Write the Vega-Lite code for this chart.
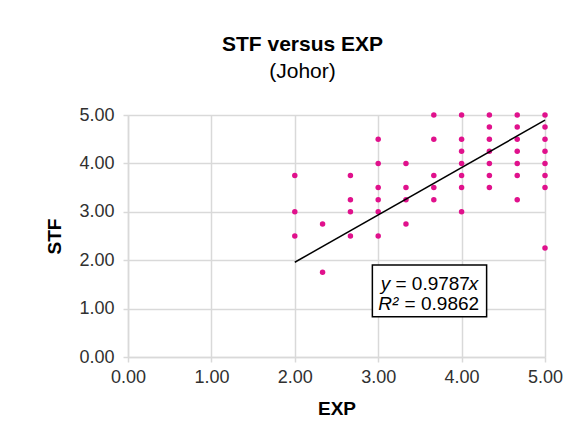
{
  "$schema": "https://vega.github.io/schema/vega-lite/v6.json",
  "autosize": "none",
  "width": 417,
  "height": 242,
  "padding": {"left": 128, "top": 115, "right": 35, "bottom": 91},
  "background": "white",
  "config": {
    "view": {"stroke": null},
    "font": "Liberation Sans",
    "axis": {
      "gridColor": "#d9d9d9",
      "gridWidth": 1.5,
      "domainColor": "#d9d9d9",
      "domainWidth": 1.5,
      "tickColor": "#d9d9d9",
      "tickWidth": 1.5,
      "tickSize": 5,
      "labelFont": "Liberation Sans",
      "labelFontSize": 18,
      "labelColor": "#303030",
      "titleFont": "Liberation Sans",
      "titleFontSize": 19,
      "titleFontWeight": "bold",
      "titleColor": "#000000"
    }
  },
  "title": {
    "text": "STF versus EXP",
    "subtitle": "(Johor)",
    "anchor": "middle",
    "dx": -34,
    "offset": 24,
    "font": "Liberation Sans",
    "fontSize": 21,
    "fontWeight": "bold",
    "color": "#000000",
    "subtitleFont": "Liberation Sans",
    "subtitleFontSize": 21,
    "subtitleColor": "#000000",
    "subtitlePadding": 6
  },
  "layer": [
    {
      "data": {"values": [
        {"EXP": 2, "STF": 3.75}, {"EXP": 2, "STF": 3}, {"EXP": 2, "STF": 2.5},
        {"EXP": 2.333, "STF": 2.75}, {"EXP": 2.333, "STF": 1.75},
        {"EXP": 2.667, "STF": 3.75}, {"EXP": 2.667, "STF": 3.25}, {"EXP": 2.667, "STF": 3}, {"EXP": 2.667, "STF": 2.5},
        {"EXP": 3, "STF": 4.5}, {"EXP": 3, "STF": 4}, {"EXP": 3, "STF": 3.5}, {"EXP": 3, "STF": 3.25}, {"EXP": 3, "STF": 3}, {"EXP": 3, "STF": 2.5},
        {"EXP": 3.333, "STF": 4}, {"EXP": 3.333, "STF": 3.5}, {"EXP": 3.333, "STF": 3.25}, {"EXP": 3.333, "STF": 2.75},
        {"EXP": 3.667, "STF": 5}, {"EXP": 3.667, "STF": 4.5}, {"EXP": 3.667, "STF": 3.75}, {"EXP": 3.667, "STF": 3.5}, {"EXP": 3.667, "STF": 3.25},
        {"EXP": 4, "STF": 5}, {"EXP": 4, "STF": 4.5}, {"EXP": 4, "STF": 4.25}, {"EXP": 4, "STF": 4}, {"EXP": 4, "STF": 3.75}, {"EXP": 4, "STF": 3.5}, {"EXP": 4, "STF": 3},
        {"EXP": 4.333, "STF": 5}, {"EXP": 4.333, "STF": 4.75}, {"EXP": 4.333, "STF": 4.5}, {"EXP": 4.333, "STF": 4.25}, {"EXP": 4.333, "STF": 4}, {"EXP": 4.333, "STF": 3.75}, {"EXP": 4.333, "STF": 3.5},
        {"EXP": 4.667, "STF": 5}, {"EXP": 4.667, "STF": 4.75}, {"EXP": 4.667, "STF": 4.5}, {"EXP": 4.667, "STF": 4.25}, {"EXP": 4.667, "STF": 4}, {"EXP": 4.667, "STF": 3.75}, {"EXP": 4.667, "STF": 3.25},
        {"EXP": 5, "STF": 5}, {"EXP": 5, "STF": 4.75}, {"EXP": 5, "STF": 4.5}, {"EXP": 5, "STF": 4.25}, {"EXP": 5, "STF": 4}, {"EXP": 5, "STF": 3.75}, {"EXP": 5, "STF": 3.5}, {"EXP": 5, "STF": 2.25}
      ]},
      "mark": {"type": "circle", "size": 30, "opacity": 1, "color": "#E0118C"},
      "encoding": {
        "x": {
          "field": "EXP", "type": "quantitative", "title": "EXP",
          "scale": {"domain": [0, 5], "nice": false, "zero": false},
          "axis": {"values": [0, 1, 2, 3, 4, 5], "format": ".2f", "labelPadding": 6, "titlePadding": 13, "labelFlush": false}
        },
        "y": {
          "field": "STF", "type": "quantitative", "title": "STF",
          "scale": {"domain": [0, 5], "nice": false, "zero": false},
          "axis": {"values": [0, 1, 2, 3, 4, 5], "format": ".2f", "labelPadding": 9, "titlePadding": 14, "labelFlush": false}
        }
      }
    },
    {
      "data": {"values": [{"EXP": 2, "STF": 1.9574}, {"EXP": 5, "STF": 4.8935}]},
      "mark": {"type": "line", "color": "#000000", "strokeWidth": 1.5},
      "encoding": {
        "x": {"field": "EXP", "type": "quantitative"},
        "y": {"field": "STF", "type": "quantitative"}
      }
    },
    {
      "data": {"values": [{"x1": 2.93, "x2": 4.30, "y1": 1.90, "y2": 0.83}]},
      "mark": {"type": "rect", "fill": "white", "stroke": "#000000", "strokeWidth": 1.5},
      "encoding": {
        "x": {"field": "x1", "type": "quantitative"},
        "x2": {"field": "x2"},
        "y": {"field": "y1", "type": "quantitative"},
        "y2": {"field": "y2"}
      }
    },
    {
      "data": {"values": [{"t": "y", "x": 3.03, "y": 1.38}, {"t": "R²", "x": 3.0, "y": 0.97}]},
      "mark": {"type": "text", "align": "left", "baseline": "alphabetic", "fontStyle": "italic", "fontSize": 19, "font": "Liberation Sans", "color": "#000000"},
      "encoding": {
        "x": {"field": "x", "type": "quantitative"},
        "y": {"field": "y", "type": "quantitative"},
        "text": {"field": "t"}
      }
    },
    {
      "data": {"values": [{"t": "x", "x": 4.20, "y": 1.38}]},
      "mark": {"type": "text", "align": "right", "baseline": "alphabetic", "fontStyle": "italic", "fontSize": 19, "font": "Liberation Sans", "color": "#000000"},
      "encoding": {
        "x": {"field": "x", "type": "quantitative"},
        "y": {"field": "y", "type": "quantitative"},
        "text": {"field": "t"}
      }
    },
    {
      "data": {"values": [{"t": "= 0.9787", "x": 4.10, "y": 1.38}, {"t": "= 0.9862", "x": 4.21, "y": 0.97}]},
      "mark": {"type": "text", "align": "right", "baseline": "alphabetic", "fontSize": 19, "font": "Liberation Sans", "color": "#000000"},
      "encoding": {
        "x": {"field": "x", "type": "quantitative"},
        "y": {"field": "y", "type": "quantitative"},
        "text": {"field": "t"}
      }
    }
  ]
}
